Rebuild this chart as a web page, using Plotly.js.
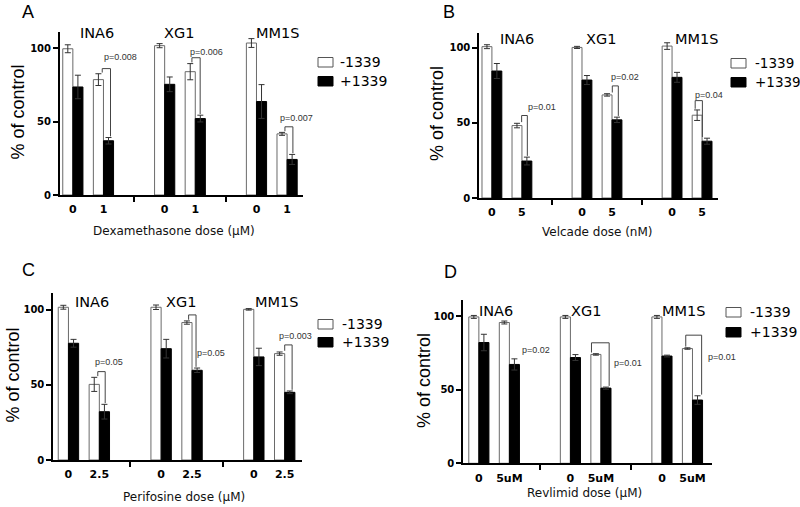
<!DOCTYPE html>
<html>
<head>
<meta charset="utf-8">
<script src="https://cdn.plot.ly/plotly-3.0.1.min.js"></script>
<style>html,body{margin:0;padding:0;background:#fff}#chart{width:800px;height:507px}</style>
</head>
<body>
<div id="chart"></div>
<script>
// ---------------- DATA ----------------
const cellLines = ['INA6', 'XG1', 'MM1S'];
const xPositions = [0, 1, 3, 4, 6, 7];
const groupSeparators = [2, 5];
const seriesNames = ['-1339', '+1339'];

// Panel A: Dexamethasone
const doseLabelsA = ['0', '1', '0', '1', '0', '1'];
const minusA = [99.5, 78.5, 101.6, 83.9, 103.4, 41.6];
const minusErrA = [2.7, 4.0, 1.4, 5.5, 3.0, 1.0];
const plusA = [73.5, 36.9, 75.3, 52.0, 63.6, 24.2];
const plusErrA = [8.0, 2.2, 5.0, 2.3, 11.5, 3.4];
const pValuesA = ['p=0.008', 'p=0.006', 'p=0.007'];

// Panel B: Velcade
const doseLabelsB = ['0', '5', '0', '5', '0', '5'];
const minusB = [100.7, 48.2, 100.2, 68.6, 101.1, 55.1];
const minusErrB = [1.3, 1.5, 0.7, 0.8, 2.2, 3.5];
const plusB = [84.5, 24.6, 78.5, 52.0, 80.3, 37.8];
const plusErrB = [5.0, 2.6, 3.0, 1.8, 3.3, 2.0];
const pValuesB = ['p=0.01', 'p=0.02', 'p=0.04'];

// Panel C: Perifosine
const doseLabelsC = ['0', '2.5', '0', '2.5', '0', '2.5'];
const minusC = [101.8, 50.4, 101.8, 91.6, 100.4, 70.9];
const minusErrC = [1.3, 4.7, 1.5, 1.1, 0.5, 1.1];
const plusC = [77.8, 32.2, 74.2, 59.8, 68.7, 45.1];
const plusErrC = [2.6, 4.9, 6.2, 1.5, 5.8, 0.9];
const pValuesC = ['p=0.05', 'p=0.05', 'p=0.003'];

// Panel D: Revlimid
const doseLabelsD = ['0', '5uM', '0', '5uM', '0', '5uM'];
const minusD = [99.5, 95.7, 99.5, 74.0, 99.5, 78.0];
const minusErrD = [1.0, 1.0, 1.0, 0.5, 1.0, 0.5];
const plusD = [82.1, 67.2, 71.9, 51.1, 72.9, 43.0];
const plusErrD = [5.6, 3.8, 2.0, 0.7, 0.6, 2.9];
const pValuesD = ['p=0.02', 'p=0.01', 'p=0.01'];

const yTicks = [0, 50, 100];

// ---------------- LAYOUT CONFIG ----------------
const W = 800, H = 507;
const px = v => v / W;
const py = v => 1 - v / H;

const panels = [
  {letter: 'A', xTitle: 'Dexamethasone dose (\u03bcM)', doses: doseLabelsA,
   minus: minusA, minusErr: minusErrA, plus: plusA, plusErr: plusErrA, p: pValuesA,
   xDom: [60, 303], xRange: [-0.42, 7.52], yDom: [195, 32], yMax: 110.9,
   groupX: [0.78, 3.46, 6.7], groupY: 110.2,
   bTop: [86, 93.4, 46.4], bL: [-0.04, -0.11, -0.07], bR: [0.23, 0.16, 0.19],
   pDx: [-0.06, -0.24, -0.31], pY: [93.9, 97.3, 52.4],
   letterPos: [28.5, 12], xTitlePos: [174, 231], yTitlePos: [17, 112.5],
   legX: 318, legY: [62, 81], legTextX: 338, legFont: 14},
  {letter: 'B', xTitle: 'Velcade dose (nM)', doses: doseLabelsB,
   minus: minusB, minusErr: minusErrB, plus: plusB, plusErr: plusErrB, p: pValuesB,
   xDom: [479.3, 718], xRange: [-0.42, 7.53], yDom: [198, 33], yMax: 109.8,
   groupX: [0.85, 3.63, 6.8], groupY: 105.8,
   bTop: [54.9, 74.6, 64.8], bL: [-0.01, 0.01, -0.23], bR: [0.18, 0.21, 0.01],
   pDx: [0.13, -0.09, -0.29], pY: [60.5, 80.3, 68.5],
   letterPos: [449, 11.5], xTitlePos: [597.5, 231.5], yTitlePos: [437, 114],
   legX: 731, legY: [63, 82], legTextX: 753, legFont: 13.5},
  {letter: 'C', xTitle: 'Perifosine dose (\u03bcM)', doses: doseLabelsC,
   minus: minusC, minusErr: minusErrC, plus: plusC, plusErr: plusErrC, p: pValuesC,
   xDom: [53.3, 301.7], xRange: [-0.49, 7.55], yDom: [460, 293], yMax: 111.3,
   groupX: [0.76, 3.65, 6.72], groupY: 105,
   bTop: [58.9, 96.7, 76.7], bL: [-0.05, -0.11, 0], bR: [0.19, 0.13, 0.24],
   pDx: [-0.22, 0.1, -0.24], pY: [65.6, 71.6, 82.7],
   letterPos: [29, 270], xTitlePos: [183.5, 496.5], yTitlePos: [12.5, 375],
   legX: 318, legY: [324, 342], legTextX: 340, legFont: 14},
  {letter: 'D', xTitle: 'Revlimid dose (\u03bcM)', doses: doseLabelsD,
   minus: minusD, minusErr: minusErrD, plus: plusD, plusErr: plusErrD, p: pValuesD,
   xDom: [463.3, 711.7], xRange: [-0.51, 7.63], yDom: [463.3, 300], yMax: 111,
   groupX: [0.57, 3.52, 6.72], groupY: 103.5,
   bTop: [null, 81.9, 87.1], bL: [0, -0.31, -0.22], bR: [0, 0.27, 0.3],
   pDx: [0.36, 0.35, 0.44], pY: [76.9, 68.3, 72.4],
   letterPos: [450, 271.5], xTitlePos: [584, 492.5], yTitlePos: [424, 381],
   legX: 726, legY: [312, 332], legTextX: 748, legFont: 14}
];

const traces = [];
const layout = {
  width: W, height: H,
  margin: {l: 0, r: 0, t: 0, b: 0},
  paper_bgcolor: '#fff', plot_bgcolor: 'rgba(0,0,0,0)',
  showlegend: false,
  barmode: 'group', bargap: 0.34, bargroupgap: 0,
  font: {family: 'DejaVu Sans', color: '#000'},
  annotations: [], shapes: []
};

panels.forEach((P, i) => {
  const n = i === 0 ? '' : String(i + 1);
  const xa = 'x' + n, ya = 'y' + n;

  traces.push({
    type: 'bar', name: seriesNames[0], x: xPositions, y: P.minus, xaxis: xa, yaxis: ya,
    marker: {color: '#ffffff', line: {color: '#6a6a6a', width: 1}},
    error_y: {type: 'data', array: P.minusErr, visible: true, color: '#333', thickness: 1, width: 3},
    hoverinfo: 'skip'
  });
  traces.push({
    type: 'bar', name: seriesNames[1], x: xPositions, y: P.plus, xaxis: xa, yaxis: ya,
    marker: {color: '#000000', line: {color: '#000000', width: 1}},
    error_y: {type: 'data', array: P.plusErr, visible: true, color: '#333', thickness: 1, width: 3},
    hoverinfo: 'skip'
  });

  // significance brackets (from the data: bar tops + errors)
  for (let g = 0; g < 3; g++) {
    const k = 2 * g + 1;
    const cx = xPositions[k];
    if (P.bTop[g] !== null) {
      traces.push({
        type: 'scatter', mode: 'lines', xaxis: xa, yaxis: ya, hoverinfo: 'skip',
        x: [cx + P.bL[g], cx + P.bL[g], cx + P.bR[g], cx + P.bR[g]],
        y: [P.minus[k] + P.minusErr[k] + 0.8, P.bTop[g], P.bTop[g], P.plus[k] + P.plusErr[k] + 0.8],
        line: {color: '#444', width: 1}, cliponaxis: false
      });
    }
    layout.annotations.push({
      xref: xa, yref: ya, x: cx + P.pDx[g], y: P.pY[g], text: P.p[g],
      xanchor: 'left', yanchor: 'middle', showarrow: false,
      font: {family: 'Liberation Sans', size: 9, color: '#333'}
    });
    layout.annotations.push({
      xref: xa, yref: ya, x: P.groupX[g], y: P.groupY, text: cellLines[g],
      xanchor: 'center', yanchor: 'middle', showarrow: false,
      font: {family: 'DejaVu Sans', size: 14.5, color: '#000'}
    });
  }

  layout['xaxis' + n] = {
    domain: [px(P.xDom[0]), px(P.xDom[1])], range: P.xRange, anchor: ya,
    showline: true, linewidth: 2, linecolor: '#000', mirror: false,
    showgrid: false, zeroline: false,
    tickmode: 'array', tickvals: xPositions, ticktext: P.doses, ticks: '',
    ticklabelstandoff: 3,
    tickfont: {family: 'DejaVu Sans', size: 11, weight: 'bold', color: '#000'},
    minor: {tickmode: 'array', tickvals: groupSeparators, ticks: 'outside', ticklen: 5, tickwidth: 2, tickcolor: '#000', showgrid: false},
    fixedrange: true
  };
  layout['yaxis' + n] = {
    domain: [py(P.yDom[0]), py(P.yDom[1])], range: [0, P.yMax], anchor: xa,
    showline: true, linewidth: 2, linecolor: '#000',
    showgrid: false, zeroline: false,
    tickmode: 'array', tickvals: yTicks, ticks: 'outside', ticklen: 5, tickwidth: 2, tickcolor: '#000',
    tickfont: {family: 'DejaVu Sans', size: 10, weight: 'bold', color: '#000'},
    fixedrange: true
  };

  // panel letter, axis titles
  layout.annotations.push({xref: 'paper', yref: 'paper', x: px(P.letterPos[0]), y: py(P.letterPos[1]),
    text: P.letter, showarrow: false, xanchor: 'center', yanchor: 'middle',
    font: {family: 'Liberation Sans', size: 18, color: '#000'}});
  layout.annotations.push({xref: 'paper', yref: 'paper', x: px(P.xTitlePos[0]), y: py(P.xTitlePos[1]),
    text: P.xTitle, showarrow: false, xanchor: 'center', yanchor: 'middle',
    font: {family: 'DejaVu Sans', size: 12, color: '#111'}});
  layout.annotations.push({xref: 'paper', yref: 'paper', x: px(P.yTitlePos[0]), y: py(P.yTitlePos[1]),
    text: '% of control', textangle: -90, showarrow: false, xanchor: 'center', yanchor: 'middle',
    font: {family: 'Liberation Sans', size: 18, color: '#000'}});

  // legend (drawn manually)
  const fills = ['#ffffff', '#000000'], strokes = ['#555', '#000'];
  for (let s = 0; s < 2; s++) {
    layout.shapes.push({type: 'rect', xref: 'paper', yref: 'paper',
      x0: px(P.legX), x1: px(P.legX + 15), y0: py(P.legY[s] + 5), y1: py(P.legY[s] - 4.5),
      fillcolor: fills[s], line: {color: strokes[s], width: 1}});
    layout.annotations.push({xref: 'paper', yref: 'paper', x: px(P.legTextX), y: py(P.legY[s]),
      text: seriesNames[s], showarrow: false, xanchor: 'left', yanchor: 'middle',
      font: {family: 'DejaVu Sans', size: P.legFont, color: '#000'}});
  }
});

Plotly.newPlot('chart', traces, layout, {staticPlot: true, displayModeBar: false});
</script>
</body>
</html>
